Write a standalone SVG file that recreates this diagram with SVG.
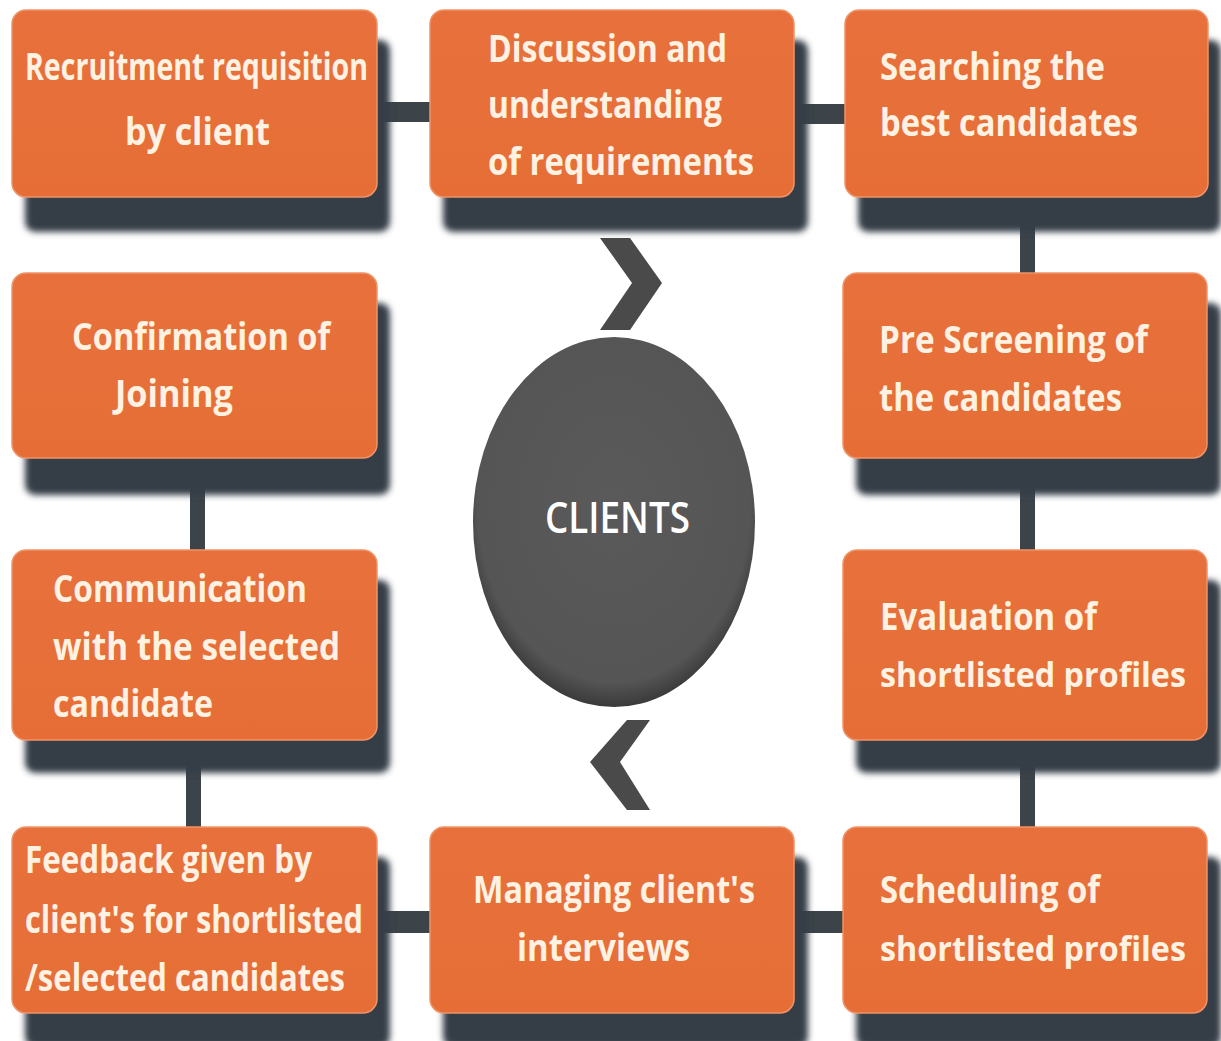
<svg xmlns="http://www.w3.org/2000/svg" width="1221" height="1041" viewBox="0 0 1221 1041">
  <defs>
    <filter id="blur" x="-10%" y="-10%" width="120%" height="130%">
      <feGaussianBlur stdDeviation="3"/>
    </filter>
    <radialGradient id="ellG" cx="50%" cy="45%" r="55%">
      <stop offset="0" stop-color="#5a5a5a"/>
      <stop offset="0.88" stop-color="#555555"/>
      <stop offset="1" stop-color="#3a3a3a"/>
    </radialGradient>
    <linearGradient id="boxG" x1="0" y1="0" x2="0" y2="1">
      <stop offset="0" stop-color="#E8703C"/>
      <stop offset="1" stop-color="#E66E36"/>
    </linearGradient>
    <style>
      .shadow { fill: #343e47; filter: url(#blur); }
      .box { fill: url(#boxG); stroke: #EE9468; stroke-width: 1.5; }
      .lbl { font-family: "Open Sans", "Liberation Sans", sans-serif; font-weight: 700; font-size: 38px; fill: #FFF2E2; }
      .lbs { font-size: 34px; }
      .conn { fill: #3c4349; }
      .chev { fill: #4a4a4a; }
    </style>
  </defs>
  <rect width="1221" height="1041" fill="#ffffff"/>

  <g id="connectors">
    <rect class="conn" x="375" y="102" width="58" height="20"/>
    <rect class="conn" x="791" y="104" width="56" height="20"/>
    <rect class="conn" x="1020" y="195" width="15" height="80"/>
    <rect class="conn" x="1020" y="456" width="15" height="96"/>
    <rect class="conn" x="1020" y="738" width="15" height="91"/>
    <rect class="conn" x="190" y="456" width="15" height="96"/>
    <rect class="conn" x="186" y="738" width="15" height="91"/>
    <rect class="conn" x="375" y="911" width="58" height="22"/>
    <rect class="conn" x="791" y="911" width="54" height="22"/>
  </g>

  <g id="center">
    <ellipse cx="614" cy="522" rx="141" ry="185" fill="url(#ellG)"/>
    <text x="545" y="533" textLength="145" lengthAdjust="spacingAndGlyphs" style="font-family:'Open Sans','Liberation Sans',sans-serif;font-weight:600;font-size:44px;fill:#ffffff">CLIENTS</text>
    <polygon class="chev" points="600,238 630,238 662,283 630,330 600,330 632,283"/>
    <polygon class="chev" points="650,720 627,720 590,762 627,810 650,810 620,762"/>
  </g>

  <g id="n1">
    <rect class="shadow" x="25" y="40" width="365" height="192" rx="10"/>
    <rect class="box" x="12" y="10" width="365" height="187" rx="14"/>
    <text class="lbl" x="25" y="80" textLength="343" lengthAdjust="spacingAndGlyphs">Recruitment requisition</text>
    <text class="lbl" x="125" y="145" textLength="145" lengthAdjust="spacingAndGlyphs">by client</text>
  </g>
  <g id="n2">
    <rect class="shadow" x="443" y="40" width="365" height="192" rx="10"/>
    <rect class="box" x="430" y="10" width="364" height="187" rx="14"/>
    <text class="lbl" x="488" y="62" textLength="239" lengthAdjust="spacingAndGlyphs">Discussion and</text>
    <text class="lbl" x="488" y="118" textLength="234" lengthAdjust="spacingAndGlyphs">understanding</text>
    <text class="lbl" x="488" y="175" textLength="266" lengthAdjust="spacingAndGlyphs">of requirements</text>
  </g>
  <g id="n3">
    <rect class="shadow" x="858" y="40" width="363" height="192" rx="10"/>
    <rect class="box" x="845" y="10" width="363" height="187" rx="14"/>
    <text class="lbl" x="880" y="80" textLength="225" lengthAdjust="spacingAndGlyphs">Searching the</text>
    <text class="lbl" x="880" y="136" textLength="258" lengthAdjust="spacingAndGlyphs">best candidates</text>
  </g>
  <g id="n4">
    <rect class="shadow" x="25" y="303" width="365" height="192" rx="10"/>
    <rect class="box" x="12" y="273" width="365" height="185" rx="14"/>
    <text class="lbl" x="72" y="350" textLength="258" lengthAdjust="spacingAndGlyphs">Confirmation of</text>
    <text class="lbl" x="115" y="407" textLength="118" lengthAdjust="spacingAndGlyphs">Joining</text>
  </g>
  <g id="n5">
    <rect class="shadow" x="856" y="303" width="365" height="192" rx="10"/>
    <rect class="box" x="843" y="273" width="364" height="185" rx="14"/>
    <text class="lbl" x="879" y="353" textLength="269" lengthAdjust="spacingAndGlyphs">Pre Screening of</text>
    <text class="lbl" x="879" y="411" textLength="243" lengthAdjust="spacingAndGlyphs">the candidates</text>
  </g>
  <g id="n6">
    <rect class="shadow" x="25" y="580" width="365" height="193" rx="10"/>
    <rect class="box" x="12" y="550" width="365" height="190" rx="14"/>
    <text class="lbl" x="53" y="602" textLength="254" lengthAdjust="spacingAndGlyphs">Communication</text>
    <text class="lbl" x="53" y="660" textLength="287" lengthAdjust="spacingAndGlyphs">with the selected</text>
    <text class="lbl" x="53" y="717" textLength="160" lengthAdjust="spacingAndGlyphs">candidate</text>
  </g>
  <g id="n7">
    <rect class="shadow" x="856" y="580" width="365" height="193" rx="10"/>
    <rect class="box" x="843" y="550" width="364" height="190" rx="14"/>
    <text class="lbl" x="880" y="630" textLength="217" lengthAdjust="spacingAndGlyphs">Evaluation of</text>
    <text class="lbl lbs" x="880" y="687" textLength="306" lengthAdjust="spacingAndGlyphs">shortlisted profiles</text>
  </g>
  <g id="n8">
    <rect class="shadow" x="25" y="857" width="365" height="190" rx="10"/>
    <rect class="box" x="12" y="827" width="365" height="186" rx="14"/>
    <text class="lbl" x="25" y="873" textLength="287" lengthAdjust="spacingAndGlyphs">Feedback given by</text>
    <text class="lbl" x="25" y="933" textLength="338" lengthAdjust="spacingAndGlyphs">client's for shortlisted</text>
    <text class="lbl" x="25" y="991" textLength="320" lengthAdjust="spacingAndGlyphs">/selected candidates</text>
  </g>
  <g id="n9">
    <rect class="shadow" x="443" y="857" width="365" height="190" rx="10"/>
    <rect class="box" x="430" y="827" width="364" height="186" rx="14"/>
    <text class="lbl" x="473" y="903" textLength="282" lengthAdjust="spacingAndGlyphs">Managing client's</text>
    <text class="lbl" x="517" y="961" textLength="173" lengthAdjust="spacingAndGlyphs">interviews</text>
  </g>
  <g id="n10">
    <rect class="shadow" x="856" y="857" width="365" height="190" rx="10"/>
    <rect class="box" x="843" y="827" width="364" height="186" rx="14"/>
    <text class="lbl" x="880" y="903" textLength="220" lengthAdjust="spacingAndGlyphs">Scheduling of</text>
    <text class="lbl lbs" x="880" y="961" textLength="306" lengthAdjust="spacingAndGlyphs">shortlisted profiles</text>
  </g>
</svg>
